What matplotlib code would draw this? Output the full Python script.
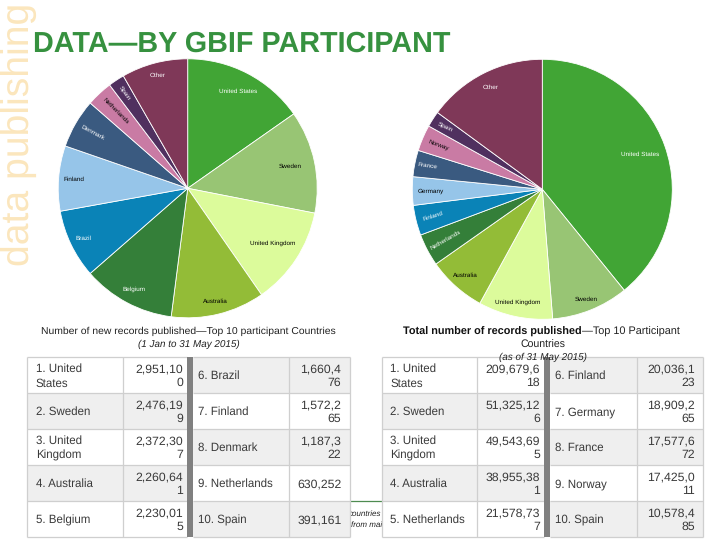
import numpy as np
import matplotlib
matplotlib.use("Agg")
import matplotlib.pyplot as plt
from matplotlib.patches import Rectangle

plt.rcParams['font.family'] = ['Liberation Sans', 'DejaVu Sans']
plt.rcParams['text.hinting'] = 'no_hinting'

TITLE = "DATA\u2014BY GBIF PARTICIPANT"
SIDE = "data publishing"

new_labels = ["United States", "Sweden", "United Kingdom", "Australia", "Belgium", "Brazil",
              "Finland", "Denmark", "Netherlands", "Spain", "Other"]
new_values = [2951100, 2476199, 2372307, 2260641, 2230015, 1660476,
              1572265, 1187322, 630252, 391161, 1600000]
total_labels = ["United States", "Sweden", "United Kingdom", "Australia", "Netherlands", "Finland",
                "Germany", "France", "Norway", "Spain", "Other"]
total_values = [209679618, 51325126, 49543695, 38955381, 21578737, 20036123,
                18909265, 17577672, 17425011, 10578485, 80000000]

slice_colors = ["#41A535", "#98C574", "#DCFB9B", "#93BC37", "#347F39", "#0A83B7",
                "#96C5E9", "#3A5A80", "#C97BA4", "#50305F", "#7F3858"]

new_table_left = [("1. United\nStates", "2,951,10\n0"), ("2. Sweden", "2,476,19\n9"),
                  ("3. United\nKingdom", "2,372,30\n7"), ("4. Australia", "2,260,64\n1"),
                  ("5. Belgium", "2,230,01\n5")]
new_table_right = [("6. Brazil", "1,660,4\n76"), ("7. Finland", "1,572,2\n65"),
                   ("8. Denmark", "1,187,3\n22"), ("9. Netherlands", "630,252"),
                   ("10. Spain", "391,161")]
total_table_left = [("1. United\nStates", "209,679,6\n18"), ("2. Sweden", "51,325,12\n6"),
                    ("3. United\nKingdom", "49,543,69\n5"), ("4. Australia", "38,955,38\n1"),
                    ("5. Netherlands", "21,578,73\n7")]
total_table_right = [("6. Finland", "20,036,1\n23"), ("7. Germany", "18,909,2\n65"),
                     ("8. France", "17,577,6\n72"), ("9. Norway", "17,425,0\n11"),
                     ("10. Spain", "10,578,4\n85")]

W, H = 720, 540
fig = plt.figure(figsize=(7.2, 5.4), dpi=100, facecolor="white")
bg = fig.add_axes([0, 0, 1, 1])
bg.set_xlim(0, W)
bg.set_ylim(H, 0)
bg.axis("off")


def draw_pie(cx, cy, R, values, labels, fracs, rots, cols):
    ax = fig.add_axes([(cx - R) / W, 1 - (cy + R) / H, 2 * R / W, 2 * R / H])
    wedges, _ = ax.pie(values, colors=slice_colors, startangle=90, counterclock=False,
                       radius=1, wedgeprops=dict(edgecolor="white", linewidth=0.6))
    ax.set_xlim(-1, 1)
    ax.set_ylim(-1, 1)
    ax.set_aspect("auto")
    for w, lab, f, rot, col in zip(wedges, labels, fracs, rots, cols):
        a = np.deg2rad((w.theta1 + w.theta2) / 2)
        ax.text(f * np.cos(a), f * np.sin(a), lab, ha="center", va="center",
                fontsize=4.6, color=col, rotation=rot, rotation_mode="anchor")


draw_pie(187.7, 188.3, 129.5, new_values, new_labels,
         [.84, .81, .78, .90, .88, .89, .88, .85, .81, .88, .90],
         [0, 0, 0, 0, 0, 0, 0, -28, -45, -55, 0],
         ["white", "black", "black", "black", "white", "white", "black", "white", "black", "white", "white"])
draw_pie(542.3, 189.3, 130, total_values, total_labels,
         [.80, .91, .89, .89, .84, .87, .86, .90, .87, .89, .88],
         [0, 0, 0, 0, 30, 18, 0, -8, -20, -25, 0],
         ["white", "black", "black", "black", "white", "white", "black", "white", "black", "white", "white"])

# Header
bg.text(33, 52, TITLE, fontsize=20.7, fontweight="bold", color="#36913F", ha="left", va="baseline")
bg.text(29, 266, SIDE, fontsize=28.2, color="#FBE6BD", rotation=90, ha="left", va="baseline",
        rotation_mode="anchor")

# Footnote fragment that the tables cover
bg.plot([345, 385], [500.5, 500.5], color="#4E8B50", lw=0.9, zorder=1)
bg.text(381.5, 513.5, "countries", fontsize=5.8, style="italic", color="#222222", ha="right", va="center", zorder=1)
bg.text(351, 525, "from main", fontsize=5.8, style="italic", color="#222222", ha="left", va="center", zorder=1)
bg.add_patch(Rectangle((340, 503), 10, 37, facecolor="white", edgecolor="none", zorder=1.5))

ROWS = [357.3, 393.3, 429.3, 465.3, 501.3, 537.3]
TEXT = "#3A3A3A"
EDGE = "#CFCFCF"
SHADE = "#EFEFEF"


def draw_table(x0, x1, x2, x3, x4, x5, left, right):
    for side, (a, b), data, first_shaded in (("L", (x0, x1), left, False), ("R", (x3, x4), right, True)):
        end = x2 if side == "L" else x5
        name_pad = 8.4 if side == "L" else 5.2
        num_pad = 4 if side == "L" else 8.3
        for i, (name, num) in enumerate(data):
            top, bot = ROWS[i], ROWS[i + 1]
            shaded = (i % 2 == 1) != first_shaded
            bg.add_patch(Rectangle((a, top), end - a, bot - top,
                                   facecolor=SHADE if shaded else "white", edgecolor="none", zorder=2))
            mid = (top + bot) / 2 + 0.8
            bg.text(a + name_pad, mid, name, fontsize=8.3, color=TEXT, ha="left", va="center",
                    linespacing=1.43, zorder=4)
            bg.text(end - num_pad, mid, num, fontsize=8.8, color=TEXT, ha="right", va="center",
                    multialignment="right", linespacing=1.35, zorder=4)
    for y in ROWS:
        bg.plot([x0, x2], [y, y], color=EDGE, lw=0.9, zorder=3, solid_capstyle="butt")
        bg.plot([x3, x5], [y, y], color=EDGE, lw=0.9, zorder=3, solid_capstyle="butt")
    for x in (x0, x1, x4, x5):
        bg.plot([x, x], [ROWS[0], ROWS[-1]], color=EDGE, lw=0.9, zorder=3, solid_capstyle="butt")
    bg.add_patch(Rectangle((x2, ROWS[0]), x3 - x2, ROWS[-1] - ROWS[0],
                           facecolor="#808080", edgecolor="none", zorder=3))


draw_table(27.3, 123.3, 187, 193, 289.3, 349.7, new_table_left, new_table_right)
draw_table(381.7, 477.3, 544, 550, 636.7, 703.3, total_table_left, total_table_right)

# Captions
bg.text(188.5, 331.5, "Number of new records published\u2014Top 10 participant Countries",
        fontsize=7.5, color="#222222", ha="center", va="center", zorder=5)
bg.text(188.5, 344, "(1 Jan to 31 May 2015)", fontsize=7.1, style="italic", color="#222222",
        ha="center", va="center", zorder=5)
bg.text(582, 332, "Total number of records published", fontsize=7.8, fontweight="bold",
        color="#111111", ha="right", va="center", zorder=5)
bg.text(582, 332, "\u2014Top 10 Participant", fontsize=7.8, color="#222222", ha="left", va="center", zorder=5)
bg.text(542.5, 345, "Countries", fontsize=7.6, color="#222222", ha="center", va="center", zorder=5)
bg.text(542.5, 357, "(as of 31 May 2015)", fontsize=7.1, style="italic", color="#222222",
        ha="center", va="center", zorder=5)

fig.savefig("out.png", dpi=100)
